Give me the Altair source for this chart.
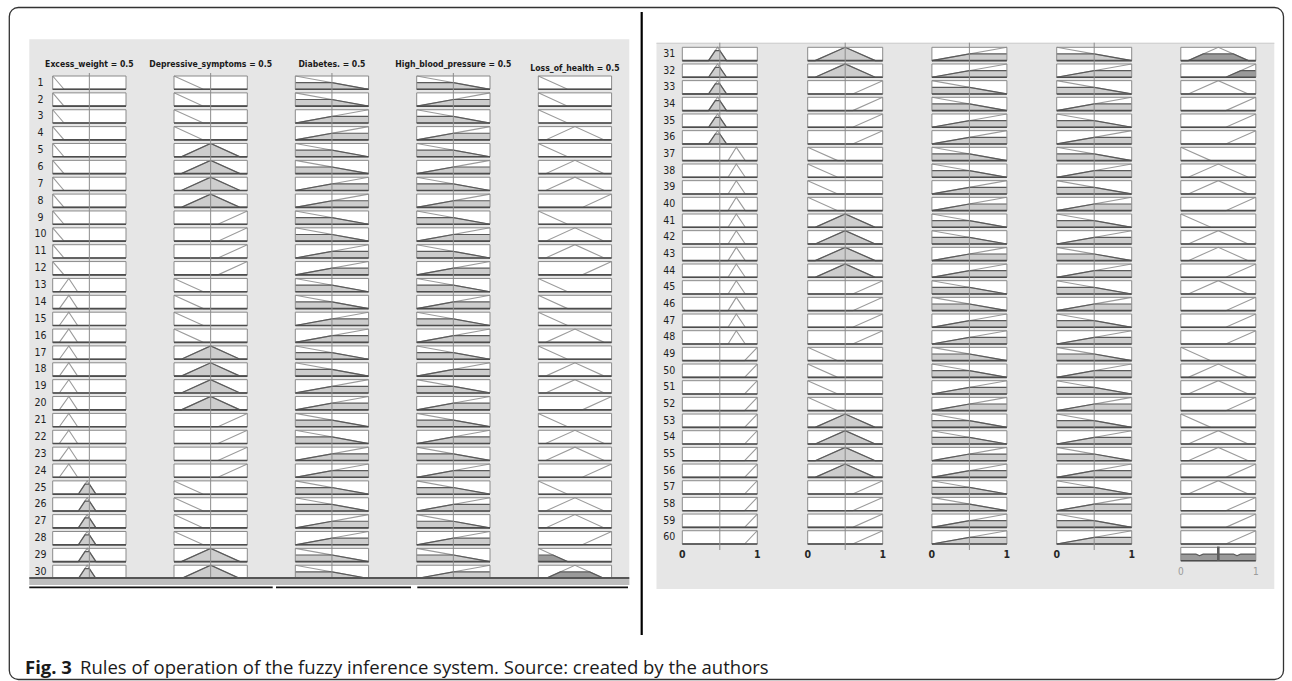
import altair as alt
import numpy as np
import pandas as pd

# ---------------------------------------------------------------- rule base
rule_ids = list(range(1, 61))
excess_weight_terms = list("111111111111" "222222222222" "333333333333"
                           "444444444444" "555555555555")
depressive_terms = list("LLLLMMMMHHHH" "LLLLMMMMHHHH" "LLLLMMMMHHHH"
                        "LLLLMMMMHHHH" "LLLLMMMMHHHH")
diabetes_terms = list("LLHHLLHHLLHH" "LLHHLLHHLLHH" "LLHHLLHHLLHH"
                      "LLHHLLHHLLHH" "LLHHLLHHLLHH")
pressure_terms = list("LHLHLHLHLHLH" "LHLHLHLHLHLH" "LHLHLHLHLHLH"
                      "LHLHLHLHLHLH" "LHLHLHLHLHLH")
loss_terms = list("LLLMLMMHLMMH" "LLLMLMMHLMMH" "LMMHLMMHMHHH"
                  "LMMHLMMHMHHH" "LMMHLMMHMHHH")
for terms in (excess_weight_terms, depressive_terms, diabetes_terms,
              pressure_terms, loss_terms):
    assert len(terms) == 60

# membership functions: (x breakpoints, membership at breakpoints)
mf_excess_weight = {
    "1": ([0, 0.155, 1], [1, 0, 0]),
    "2": ([0, 0.09, 0.22, 0.34, 1], [0, 0, 1, 0, 0]),
    "3": ([0, 0.35, 0.47, 0.59, 1], [0, 0, 1, 0, 0]),
    "4": ([0, 0.61, 0.72, 0.84, 1], [0, 0, 1, 0, 0]),
    "5": ([0, 0.83, 1], [0, 0, 1]),
}
mf_three = {
    "L": ([0, 0.4, 1], [1, 0, 0]),
    "M": ([0, 0.1, 0.5, 0.9, 1], [0, 0, 1, 0, 0]),
    "H": ([0, 0.6, 1], [0, 0, 1]),
}
mf_two = {
    "L": ([0, 1], [1, 0]),
    "H": ([0, 1], [0, 1]),
}

input_names = ["Excess_weight", "Depressive_symptoms", "Diabetes.", "High_blood_pressure"]
input_values = [0.5, 0.5, 0.5, 0.5]
output_name = "Loss_of_health"
output_value = 0.5

term_columns = [excess_weight_terms, depressive_terms, diabetes_terms, pressure_terms, loss_terms]
mf_sets = [mf_excess_weight, mf_three, mf_two, mf_two, mf_three]


def degree(mf, x):
    return float(np.interp(x, mf[0], mf[1]))


# degree of each antecedent and firing strength (AND = min) of each rule
degrees = [[degree(mf_sets[j][term_columns[j][i]], input_values[j]) for j in range(4)]
           for i in range(60)]
firing = [min(d) for d in degrees]


def clipped(xs, ys, level):
    """Vertices of min(mf, level)."""
    pts = []
    for k in range(len(xs) - 1):
        x0, y0, x1, y1 = xs[k], ys[k], xs[k + 1], ys[k + 1]
        pts.append((x0, min(y0, level)))
        if (y0 - level) * (y1 - level) < 0:
            t = (level - y0) / (y1 - y0)
            pts.append((x0 + t * (x1 - x0), level))
    pts.append((xs[-1], min(ys[-1], level)))
    return pts


# ---------------------------------------------------------------- layout
BOX_H = 13.3
PANELS = [
    dict(first=1, box_left=[52.7, 174.0, 295.3, 416.7, 538.3], box_w=73.3,
         row_top=76.0, pitch=16.87, label_x=40.5, line_top=73.0, line_bottom=577.0),
    dict(first=31, box_left=[682.3, 807.7, 931.9, 1056.7, 1180.8], box_w=75.0,
         row_top=47.3, pitch=16.67, label_x=669.3, line_top=42.7, line_bottom=550.0),
]
NARROW = "DejaVu Sans Condensed, Liberation Sans, sans-serif"
BG = "#e6e6e6"
MF_LINE = "#9b9b9b"
EDGE = "#5a5a5a"
IN_FILL = "#cdcdcd"
OUT_FILL = "#9a9a9a"
BOX_STROKE = "#8a8a8a"
AXIS_DARK = "#4d4d4d"


def column_group(p, j):
    panel = PANELS[p]
    r0 = panel["first"]
    rows = list(range(r0, r0 + 30))
    hf = BOX_H / panel["pitch"]
    left = panel["box_left"][j]
    sx = alt.Scale(domain=[0, 1], range=[left, left + panel["box_w"]], nice=False, zero=False)
    sy = alt.Scale(domain=[r0, r0 + 30],
                   range=[panel["row_top"], panel["row_top"] + 30 * panel["pitch"]],
                   nice=False, zero=False)

    def X(f):
        return alt.X(f, type="quantitative", scale=sx, axis=None)

    def Y(f):
        return alt.Y(f, type="quantitative", scale=sy, axis=None, stack=None)

    box_rows = list(rows)
    is_output = j == 4
    if p == 1 and is_output:
        box_rows = rows + [r0 + 30]  # aggregated output row
    boxes = pd.DataFrame({"rule": box_rows, "x0": 0.0, "x1": 1.0,
                          "y0": box_rows, "y1": [r + hf for r in box_rows]})

    line_recs, fill_recs = [], []
    for r in rows:
        i = r - 1
        xs, ys = mf_sets[j][term_columns[j][i]]
        for k, (x, m) in enumerate(zip(xs, ys)):
            line_recs.append({"rule": r, "k": k, "x": x, "y": r + hf * (1 - m)})
        level = firing[i] if is_output else degrees[i][j]
        if level > 0:
            for k, (x, m) in enumerate(clipped(xs, ys, level)):
                fill_recs.append({"rule": r, "k": k, "x": x, "y": r + hf * (1 - m),
                                  "yb": r + hf})

    if p == 1 and is_output:
        grid = np.linspace(0, 1, 401)
        agg = np.zeros_like(grid)
        for i in range(60):
            if firing[i] > 0:
                xs, ys = mf_three[loss_terms[i]]
                agg = np.maximum(agg, np.minimum(np.interp(grid, xs, ys), firing[i]))
        ra = r0 + 30
        for k, (x, m) in enumerate(zip(grid, agg)):
            fill_recs.append({"rule": ra, "k": k, "x": float(x), "y": ra + hf * (1 - m),
                              "yb": ra + hf})

    fill_color = OUT_FILL if is_output else IN_FILL
    layers = [
        alt.Chart(boxes).mark_rect(color="white").encode(
            x=X("x0"), x2="x1", y=Y("y0"), y2="y1"),
    ]
    if fill_recs:
        fill_df = pd.DataFrame(fill_recs)
        layers.append(alt.Chart(fill_df).mark_area(color=fill_color, opacity=1).encode(
            x=X("x"), y=Y("y"), y2="yb", detail="rule:N"))
    line_df = pd.DataFrame(line_recs)
    layers.append(alt.Chart(line_df).mark_line(color=MF_LINE, strokeWidth=1.1).encode(
        x=X("x"), y=Y("y"), detail="rule:N", order="k:Q"))
    if fill_recs:
        layers.append(alt.Chart(fill_df).mark_line(color=EDGE, strokeWidth=1.2).encode(
            x=X("x"), y=Y("y"), detail="rule:N", order="k:Q"))
    layers.append(alt.Chart(boxes).mark_rect(fillOpacity=0, stroke=BOX_STROKE, strokeWidth=1).encode(
        x=X("x0"), x2="x1", y=Y("y0"), y2="y1"))
    layers.append(alt.Chart(boxes).mark_rule(color=AXIS_DARK, strokeWidth=1.6).encode(
        x=X("x0"), x2="x1", y=Y("y1")))

    if not is_output:
        vline = pd.DataFrame({"v": [input_values[j]]})
        layers.append(alt.Chart(vline).mark_rule(color="#8c8c8c", strokeWidth=1).encode(
            x=X("v"), y=alt.value(panel["line_top"]), y2=alt.value(panel["line_bottom"])))

    if p == 1 and is_output:
        ra = r0 + 30
        defuzz = pd.DataFrame({"v": [output_value], "ya": [ra - 0.05], "yb": [ra + hf]})
        layers.append(alt.Chart(defuzz).mark_rule(color="#5e5e5e", strokeWidth=2.6).encode(
            x=X("v"), y=Y("ya"), y2="yb"))

    if j == 0:
        labels = pd.DataFrame({"rule": rows, "yc": [r + hf / 2 for r in rows],
                               "t": [str(r) for r in rows]})
        layers.append(alt.Chart(labels).mark_text(
            font=NARROW, fontSize=10.5, color="#1e1e1e", align="center", baseline="middle").encode(
            x=alt.value(panel["label_x"]), y=Y("yc"), text="t:N"))

    if p == 0:
        if is_output:
            title = f"{output_name} = {output_value}"
            ty = 68.3
        else:
            title = f"{input_names[j]} = {input_values[j]}"
            ty = 64.3
        tdf = pd.DataFrame({"v": [0.5], "t": [title]})
        layers.append(alt.Chart(tdf).mark_text(
            font=NARROW, fontSize=8.6, fontWeight="bold", color="#1a1a1a",
            align="center", baseline="middle").encode(
            x=X("v"), y=alt.value(ty), text="t:N"))
    else:
        ticks = pd.DataFrame({"v": [0.0, 1.0], "t": ["0", "1"]})
        if is_output:
            layers.append(alt.Chart(ticks).mark_text(
                font=NARROW, fontSize=10, color="#9a9a9a", align="center", baseline="middle").encode(
                x=X("v"), y=alt.value(571.7), text="t:N"))
        else:
            layers.append(alt.Chart(ticks).mark_text(
                font=NARROW, fontSize=10.5, fontWeight="bold", color="#262626",
                align="center", baseline="middle").encode(
                x=X("v"), y=alt.value(555.0), text="t:N"))

    return alt.layer(*layers)


one = pd.DataFrame({"k": [0]})


def box(x0, x1, y0, y1, **style):
    return alt.Chart(one).mark_rect(**style).encode(
        x=alt.value(x0), x2=alt.value(x1), y=alt.value(y0), y2=alt.value(y1))


def hline(x0, x1, y, color, width):
    return alt.Chart(one).mark_rule(color=color, strokeWidth=width).encode(
        x=alt.value(x0), x2=alt.value(x1), y=alt.value(y))


background = [
    box(29.3, 629.3, 39.3, 585.0, color=BG),
    box(656.5, 1274.3, 42.7, 589.0, color=BG),
    hline(656.5, 1274.3, 43.4, "#d3d3d3", 1.4),
]

groups = [column_group(p, j) for p in range(2) for j in range(5)]

foreground = [
    # bottom strip of the left window
    box(29.3, 629.3, 578.5, 585.0, color="#bdbdbd"),
    hline(29.3, 629.3, 578.0, "#555555", 1.8),
    hline(29.3, 272.7, 587.3, "#111111", 1.8),
    hline(276.0, 411.0, 587.3, "#111111", 1.8),
    hline(417.3, 628.0, 587.3, "#111111", 1.8),
    # divider between the two windows
    alt.Chart(one).mark_rule(color="#000000", strokeWidth=2.2).encode(
        x=alt.value(641.7), y=alt.value(12.0), y2=alt.value(635.0)),
    # figure frame
    box(9.3, 1283.5, 7.5, 679.5, fillOpacity=0, stroke="#333333", strokeWidth=1.3,
        cornerRadius=9),
    # caption
    alt.Chart(pd.DataFrame({"t": ["Fig. 3"]})).mark_text(
        font="Open Sans", fontSize=18.5, fontWeight="bold", color="#1a1a1a",
        align="left", baseline="alphabetic").encode(
        x=alt.value(25.0), y=alt.value(674.0), text="t:N"),
    alt.Chart(pd.DataFrame({"t": ["Rules of operation of the fuzzy inference system. "
                                  "Source: created by the authors"]})).mark_text(
        font="Open Sans", fontSize=18.5, color="#1a1a1a",
        align="left", baseline="alphabetic").encode(
        x=alt.value(80.0), y=alt.value(674.0), text="t:N"),
]

chart = alt.layer(*background, *groups, *foreground).resolve_scale(
    x="independent", y="independent"
).properties(
    width=1292, height=681, autosize=alt.AutoSizeParams(type="none"), padding=0,
    background="white",
).configure_view(stroke=None)

chart.save("out.html", embed_options={"renderer": "svg", "actions": False})
